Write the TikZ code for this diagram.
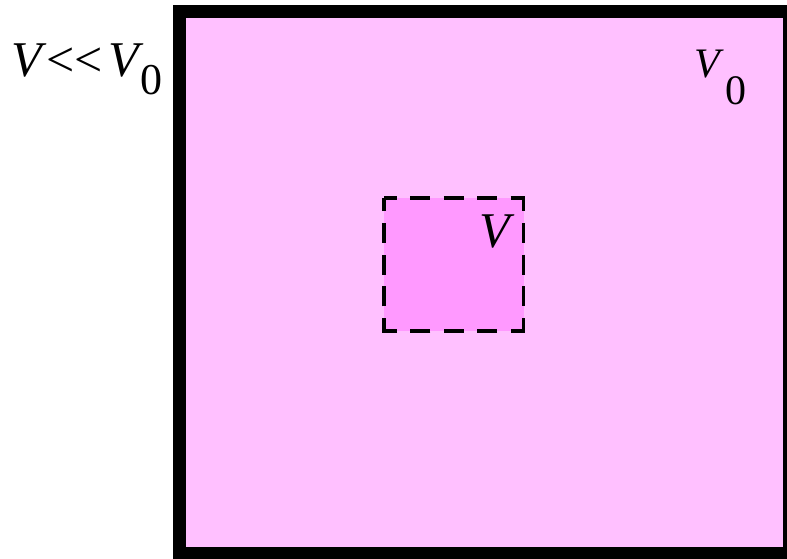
\documentclass[tikz,border=0pt]{standalone}
\usepackage{fontspec}
\setmainfont{Liberation Serif}
\definecolor{outerpink}{HTML}{FFC0FF}
\definecolor{innerpink}{HTML}{FF99FF}
\tikzset{
  outerbox/.style={draw=black, line width=13pt, fill=outerpink},
  innerbox/.style={draw=black, line width=3.4pt,
    dash pattern=on 26pt off 13.375pt on 20pt off 13.375pt on 20pt off 13.375pt on 20pt off 13.375pt
                 on 26pt off 11.75pt on 20pt off 11.75pt on 20pt off 11.75pt on 20pt off 11.75pt,
    dash phase=13pt, fill=innerpink},
  lbl/.style={inner sep=0pt, outer sep=0pt, anchor=base west, font=\fontsize{50}{60}\selectfont},
  smalllbl/.style={lbl, font=\fontsize{42}{48}\selectfont}
}
\newcommand{\subzero}[2]{\raisebox{-#1}{\fontsize{#2}{48}\selectfont 0}}
\begin{document}
\begin{tikzpicture}[x=1pt,y=-1pt]
\clip (0,0) rectangle (787,558);
\fill[white] (0,0) rectangle (787,558);
\draw[outerbox] (179.5,11.5) rectangle (789.5,553.5);
\draw[innerbox] (384,198) -- (523.5,198) -- (523.5,331) -- (384,331) -- cycle;
\node[lbl] (left) at (11,76) {\textit{V}\kern0pt{<}{<}\kern6pt\textit{V}\kern-4pt\subzero{18pt}{44}};
\node[smalllbl] (vzero) at (694,77) {\textit{V}\kern2pt\subzero{27pt}{42}};
\node[lbl] (vin) at (479,247) {\textit{V}};
\end{tikzpicture}
\end{document}
